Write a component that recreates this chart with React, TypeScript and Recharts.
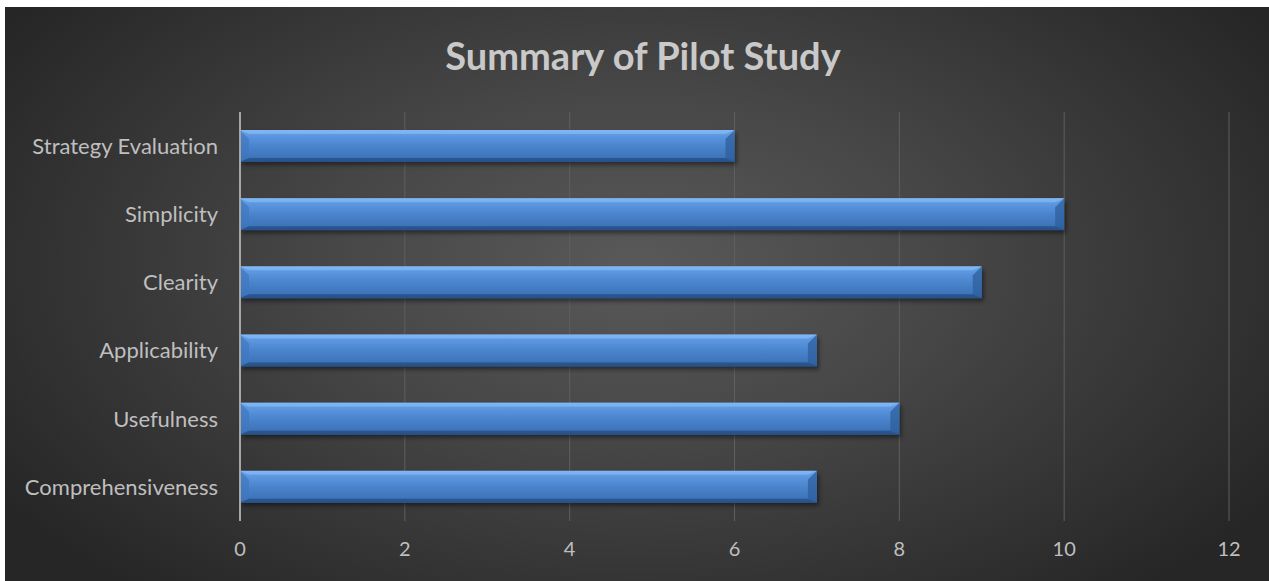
import React from "react";
import { Bar, BarChart, CartesianGrid, XAxis, YAxis } from "recharts";

const categories = [
	"Strategy Evaluation",
	"Simplicity",
	"Clearity",
	"Applicability",
	"Usefulness",
	"Comprehensiveness",
];
const scores = [6, 10, 9, 7, 8, 7];
const xTicks = [0, 2, 4, 6, 8, 10, 12];

const data = categories.map((name, i) => ({ name, score: scores[i] }));

const FONT = "Lato, 'Open Sans', sans-serif";

// bevelled blue bar, roughly like the Office preset
const BevelBar = (props: any) => {
	const { x, y, width, height } = props;
	if (!width || width <= 0) return null;
	const b = 9;
	const t = 4;
	return (
		<g>
			<rect
				x={x + 2}
				y={y + 3}
				width={width}
				height={height}
				fill="#000"
				opacity={0.45}
				filter="url(#barShadow)"
			/>
			<rect x={x} y={y} width={width} height={height} fill="url(#barGrad)" />
			<polygon
				points={`${x},${y} ${x + width},${y} ${x + width - b},${y + t} ${x + b},${y + t}`}
				fill="#8cc0fa"
				opacity={0.55}
			/>
			<polygon
				points={`${x},${y} ${x + b},${y + b} ${x + b},${y + height - t} ${x},${y + height}`}
				fill="#3f78c0"
				opacity={0.7}
			/>
			<polygon
				points={`${x + width},${y} ${x + width},${y + height} ${x + width - b},${y + height - t} ${x + width - b},${y + b}`}
				fill="#2d5f9e"
				opacity={0.75}
			/>
			<polygon
				points={`${x},${y + height} ${x + width},${y + height} ${x + width - b},${y + height - t} ${x + b},${y + height - t}`}
				fill="#274f86"
				opacity={0.8}
			/>
		</g>
	);
};

export default function App() {
	return (
		<div
			style={{
				position: "absolute",
				left: 5,
				top: 7,
				width: 1264,
				height: 574,
				background:
					"radial-gradient(ellipse 60% 75% at 50% 45%, #595959 0%, #474747 40%, #262626 100%)",
				overflow: "hidden",
				fontVariantLigatures: "none",
			}}
		>
			<div
				style={{
					position: "absolute",
					left: 6,
					top: 26,
					width: 1264,
					textAlign: "center",
					fontFamily: FONT,
					fontWeight: 700,
					fontSize: 38,
					color: "#c9c9c9",
					lineHeight: "44px",
				}}
			>
				Summary of Pilot Study
			</div>
			<BarChart
				width={1264}
				height={574}
				data={data}
				layout="vertical"
				margin={{ top: 105, right: 40, left: 0, bottom: 0 }}
				barSize={32}
				style={{ position: "absolute", left: 0, top: 0 }}
			>
				<defs>
					<linearGradient id="barGrad" x1="0" y1="0" x2="0" y2="1">
						<stop offset="0%" stopColor="#74adf1" />
						<stop offset="15%" stopColor="#5d98e0" />
						<stop offset="50%" stopColor="#4a84cc" />
						<stop offset="85%" stopColor="#3e75ba" />
						<stop offset="100%" stopColor="#2e5d98" />
					</linearGradient>
					<filter id="barShadow" x="-5%" y="-30%" width="110%" height="160%">
						<feGaussianBlur stdDeviation="2" />
					</filter>
				</defs>
				<CartesianGrid horizontal={false} stroke="#5f5f5f" strokeWidth={1} />
				<XAxis
					type="number"
					domain={[0, 12]}
					ticks={xTicks}
					axisLine={false}
					tickLine={false}
					height={60}
					tick={{ fill: "#bfbfbf", fontSize: 20, fontFamily: FONT }}
					tickMargin={15}
				/>
				<YAxis
					type="category"
					dataKey="name"
					width={235}
					axisLine={{ stroke: "#a6a6a6", strokeWidth: 2 }}
					tickLine={false}
					tick={{ fill: "#bfbfbf", fontSize: 22, fontFamily: FONT }}
					tickMargin={16}
				/>
				<Bar
					dataKey="score"
					isAnimationActive={false}
					shape={BevelBar}
				/>
			</BarChart>
		</div>
	);
}
